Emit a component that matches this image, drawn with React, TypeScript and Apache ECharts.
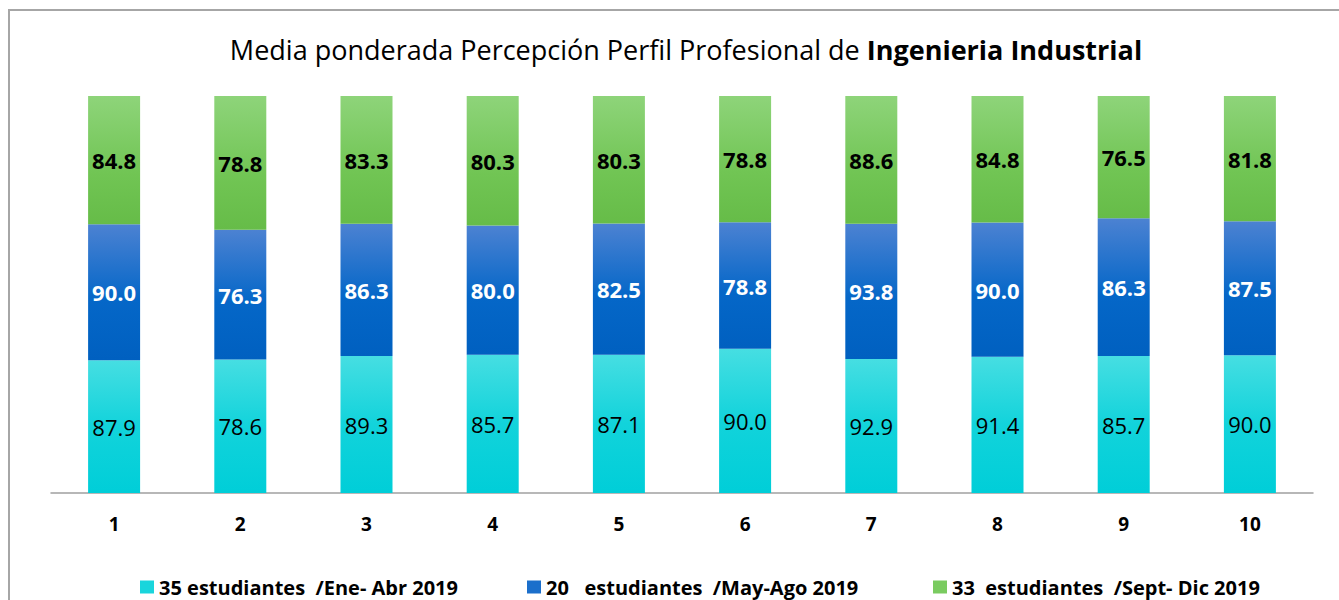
import React, { useEffect, useRef } from "react";
import * as echarts from "echarts";

const categories = ["1", "2", "3", "4", "5", "6", "7", "8", "9", "10"];
const seriesNames = [
  "35 estudiantes  /Ene- Abr 2019",
  "20   estudiantes  /May-Ago 2019",
  "33  estudiantes  /Sept- Dic 2019",
];
const eneAbr = [87.9, 78.6, 89.3, 85.7, 87.1, 90.0, 92.9, 91.4, 85.7, 90.0];
const mayAgo = [90.0, 76.3, 86.3, 80.0, 82.5, 78.8, 93.8, 90.0, 86.3, 87.5];
const septDic = [84.8, 78.8, 83.3, 80.3, 80.3, 78.8, 88.6, 84.8, 76.5, 81.8];

const FONT = "'Open Sans', sans-serif";

export default function App() {
  const ref = useRef<HTMLDivElement>(null);
  useEffect(() => {
    if (!ref.current) return;
    const chart = echarts.init(ref.current, undefined, { renderer: "svg" });
    const raw = [eneAbr, mayAgo, septDic];
    const totals = categories.map((_, i) => eneAbr[i] + mayAgo[i] + septDic[i]);
    const pct = raw.map((arr) => arr.map((v, i) => (v / totals[i]) * 100));
    const grads = [
      [
        { offset: 0, color: "#46DEE2" },
        { offset: 0.5, color: "#12D3DB" },
        { offset: 1, color: "#00CED8" },
      ],
      [
        { offset: 0, color: "#4C82D2" },
        { offset: 0.55, color: "#0567C8" },
        { offset: 1, color: "#0060C0" },
      ],
      [
        { offset: 0, color: "#8ED47A" },
        { offset: 0.6, color: "#71C554" },
        { offset: 1, color: "#66BC48" },
      ],
    ];
    const legendColors = ["#19D5DC", "#1B6FCB", "#7ACB60"];
    const labelStyles = [
      { color: "#000", fontWeight: "normal" as const },
      { color: "#fff", fontWeight: "bold" as const },
      { color: "#000", fontWeight: "bold" as const },
    ];
    const legendLefts = [135, 522, 928];

    chart.setOption({
      animation: false,
      backgroundColor: "#fff",
      title: {
        text: "{n|Media ponderada Percepción Perfil Profesional de }{b|Ingenieria Industrial}",
        left: 681,
        textAlign: "center",
        top: 31,
        textStyle: {
          rich: {
            n: { fontFamily: FONT, fontSize: 27, color: "#000", fontWeight: "normal" },
            b: { fontFamily: FONT, fontSize: 27, color: "#000", fontWeight: "bold" },
          },
        },
      },
      legend: seriesNames.map((name, k) => ({
        data: [{ name, itemStyle: { color: legendColors[k] } }],
        left: legendLefts[k],
        top: 572,
        itemWidth: 14,
        itemHeight: 13,
        itemGap: 8,
        icon: "rect",
        textStyle: { fontFamily: FONT, fontSize: 20, fontWeight: "bold", color: "#000" },
      })),
      grid: { left: 51, right: 26, top: 96, bottom: 107, containLabel: false },
      xAxis: {
        type: "category",
        data: categories,
        axisLine: { lineStyle: { color: "#A0A0A0", width: 1.5 } },
        axisTick: { show: false },
        axisLabel: {
          margin: 21,
          fontFamily: FONT,
          fontSize: 19,
          fontWeight: "bold",
          color: "#000",
        },
      },
      yAxis: { type: "value", min: 0, max: 100, show: false, splitLine: { show: false } },
      graphic: [
        {
          type: "rect",
          shape: { x: 9, y: 10, width: 1500, height: 800 },
          style: { fill: "none", stroke: "#A6A6A6", lineWidth: 2 },
          silent: true,
        },
      ],
      series: seriesNames.map((name, k) => ({
        name,
        type: "bar",
        stack: "total",
        barWidth: 52,
        data: pct[k],
        itemStyle: {
          color: new echarts.graphic.LinearGradient(0, 0, 0, 1, grads[k]),
        },
        label: {
          show: true,
          position: "inside",
          fontFamily: FONT,
          fontSize: 22,
          ...labelStyles[k],
          formatter: (p: any) => raw[k][p.dataIndex].toFixed(1),
        },
      })),
    });
    return () => chart.dispose();
  }, []);
  return (
    <div
      ref={ref}
      style={{ position: "absolute", left: 0, top: 0, width: 1339, height: 600 }}
    />
  );
}
